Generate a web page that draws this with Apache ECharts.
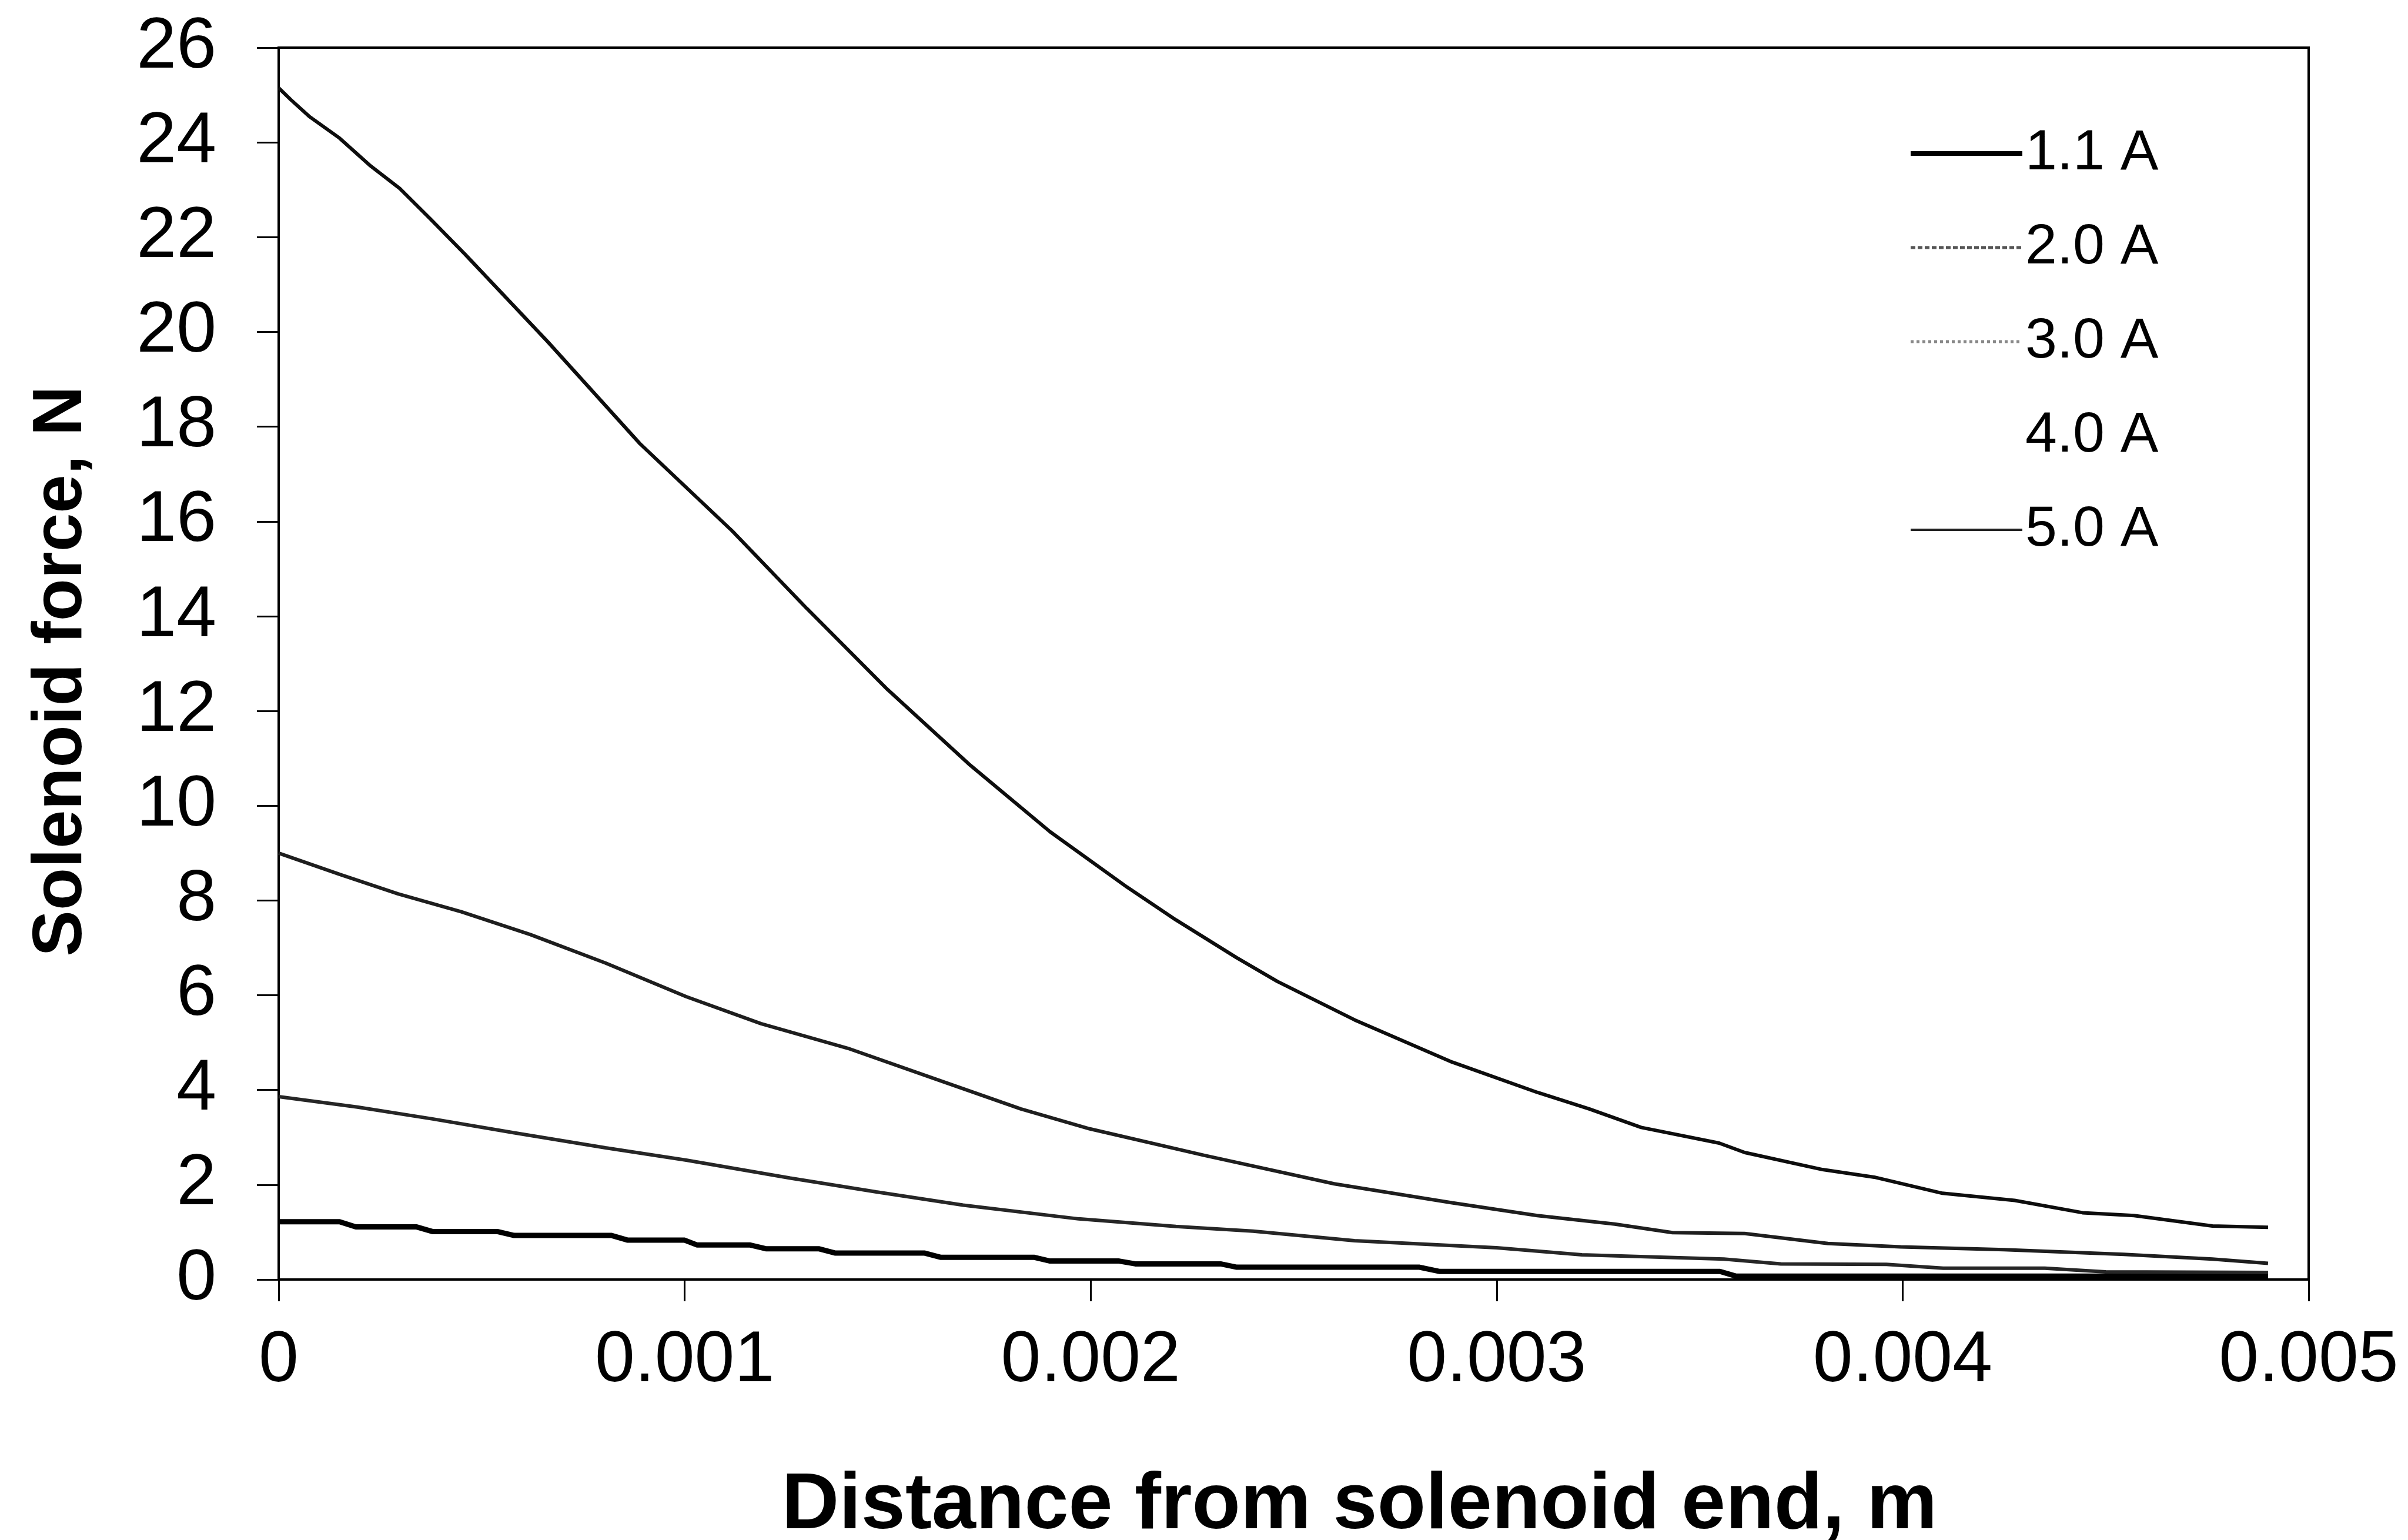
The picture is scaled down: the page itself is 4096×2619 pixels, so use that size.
<!DOCTYPE html>
<html>
<head>
<meta charset="utf-8">
<script src="https://cdn.jsdelivr.net/npm/echarts@6/dist/echarts.min.js"></script>
<style>
html,body{margin:0;padding:0;background:#fff;}
#chart{width:4096px;height:2619px;}
</style>
</head>
<body>
<div id="chart"></div>
<script>
// ---- data (x in m, force in N) ----
const seriesNames = ['1.1 A', '2.0 A', '3.0 A', '4.0 A', '5.0 A'];

const x11 = [0, 0.00015, 0.00019, 0.00034, 0.00038, 0.00054, 0.00058, 0.00082, 0.00086, 0.00100, 0.00103, 0.00116, 0.00120, 0.00133, 0.00137, 0.00159, 0.00163, 0.00186, 0.00190, 0.00207, 0.00211, 0.00232, 0.00236, 0.00281, 0.00286, 0.00355, 0.00359, 0.0049];
const y11 = [1.22, 1.22, 1.11, 1.11, 1.01, 1.01, 0.93, 0.93, 0.83, 0.83, 0.73, 0.73, 0.65, 0.65, 0.56, 0.56, 0.47, 0.47, 0.39, 0.39, 0.33, 0.33, 0.26, 0.26, 0.17, 0.17, 0.07, 0.07];

const x20 = [0, 0.000194, 0.000379, 0.000578, 0.000805, 0.001004, 0.00126, 0.001472, 0.001686, 0.00197, 0.00221, 0.0024, 0.00265, 0.003, 0.00321, 0.00356, 0.0037, 0.00396, 0.0041, 0.00435, 0.0045, 0.0049];
const y20 = [3.86, 3.64, 3.39, 3.10, 2.78, 2.52, 2.14, 1.85, 1.57, 1.28, 1.12, 1.02, 0.82, 0.67, 0.52, 0.43, 0.33, 0.32, 0.24, 0.24, 0.16, 0.15];

const x30 = [0, 0.000151, 0.000294, 0.00045, 0.00062, 0.000805, 0.001004, 0.001188, 0.001402, 0.001615, 0.001828, 0.001998, 0.00228, 0.0026, 0.00289, 0.0031, 0.003291, 0.003433, 0.003611, 0.003816, 0.003995, 0.00425, 0.004545, 0.004763, 0.0049];
const y30 = [9.0, 8.55, 8.14, 7.76, 7.28, 6.68, 5.97, 5.40, 4.88, 4.24, 3.60, 3.18, 2.62, 2.02, 1.62, 1.35, 1.17, 0.99, 0.97, 0.76, 0.69, 0.63, 0.53, 0.43, 0.34];

const x40 = [];
const y40 = [];

const x50 = [0, 0.00003, 0.000075, 0.00015, 0.000224, 0.000298, 0.000373, 0.000459, 0.000663, 0.00089, 0.001117, 0.0013, 0.0015, 0.0017, 0.0019, 0.00209, 0.00221, 0.00236, 0.00246, 0.00265, 0.00289, 0.0031, 0.003228, 0.003356, 0.003548, 0.003611, 0.003803, 0.00393, 0.004098, 0.004276, 0.004443, 0.00457, 0.004763, 0.0049];
const y50 = [25.15, 24.9, 24.55, 24.09, 23.52, 23.03, 22.39, 21.64, 19.79, 17.64, 15.80, 14.17, 12.45, 10.88, 9.45, 8.28, 7.59, 6.79, 6.29, 5.48, 4.59, 3.95, 3.60, 3.21, 2.88, 2.68, 2.32, 2.16, 1.82, 1.67, 1.41, 1.35, 1.13, 1.10];

const xTicks = [0, 0.001, 0.002, 0.003, 0.004, 0.005];
const yTicks = [0, 2, 4, 6, 8, 10, 12, 14, 16, 18, 20, 22, 24, 26];

function pairs(xs, ys) { return xs.map((x, i) => [x, ys[i]]); }

const FONT = "'Liberation Sans', Arial, Helvetica, sans-serif";

const chart = echarts.init(document.getElementById('chart'), null, {renderer: 'canvas'});

const seriesStyle = [
  {color: '#000000', width: 9},
  {color: '#262626', width: 6},
  {color: '#1e1e1e', width: 6},
  {color: '#ffffff', width: 0},
  {color: '#0d0d0d', width: 6}
];
const seriesData = [pairs(x11, y11), pairs(x20, y20), pairs(x30, y30), pairs(x40, y40), pairs(x50, y50)];

try {
chart.setOption({
  animation: false,
  backgroundColor: '#ffffff',
  grid: {left: 474, right: 169, top: 81, bottom: 443, containLabel: false, outerBoundsMode: 'none',
    show: true, borderColor: '#000', borderWidth: 4, backgroundColor: 'transparent'},
  legend: {
    show: true,
    orient: 'vertical',
    left: 3241,
    top: 206,
    itemWidth: 190,
    itemHeight: 20,
    itemGap: 60,
    itemStyle: {opacity: 0},
    textStyle: {fontFamily: FONT, fontSize: 97, color: '#000', lineHeight: 100},
    data: [
      {name: '1.1 A', lineStyle: {color: '#000', width: 8}},
      {name: '2.0 A', lineStyle: {color: '#555', width: 5, type: [8, 4]}},
      {name: '3.0 A', lineStyle: {color: '#888', width: 5, type: [5, 5]}},
      {name: '4.0 A', lineStyle: {color: '#fff', width: 0, opacity: 0}},
      {name: '5.0 A', lineStyle: {color: '#222', width: 4}}
    ]
  },
  xAxis: {
    type: 'value', min: 0, max: 0.005, interval: 0.001,
    axisLine: {show: true, lineStyle: {color: '#000', width: 4}},
    axisTick: {show: true, inside: false, length: 37, lineStyle: {color: '#000', width: 3}},
    splitLine: {show: false},
    axisLabel: {fontFamily: FONT, fontSize: 122, color: '#000', margin: 78,
      formatter: v => { const t = xTicks.find(k => Math.abs(k - v) < 1e-9); return t === 0 ? '0' : t.toFixed(3); }},
    name: 'Distance from solenoid end, m',
    nameLocation: 'middle', nameGap: 318,
    nameTextStyle: {fontFamily: FONT, fontWeight: 'bold', fontSize: 135, color: '#000', padding: [0, 0, 0, 224]}
  },
  yAxis: {
    type: 'value', min: 0, max: 26, interval: 2,
    axisLine: {show: true, lineStyle: {color: '#000', width: 4}},
    axisTick: {show: true, inside: false, length: 37, lineStyle: {color: '#000', width: 3}},
    splitLine: {show: false},
    axisLabel: {fontFamily: FONT, fontSize: 122, color: '#000', margin: 106,
      formatter: v => String(yTicks.find(k => Math.abs(k - v) < 1e-9))},
    name: 'Solenoid force, N',
    nameLocation: 'middle', nameGap: 310,
    nameTextStyle: {fontFamily: FONT, fontWeight: 'bold', fontSize: 118, color: '#000', padding: [0, 26, 0, 0]}
  },
  series: seriesNames.map((n, i) => ({
    name: n, type: 'line', symbol: 'none', showSymbol: false,
    data: seriesData[i],
    color: seriesStyle[i].color,
    lineStyle: {color: seriesStyle[i].color, width: seriesStyle[i].width},
    z: 3 + i
  }))
});
} catch (e) {
  document.body.insertAdjacentHTML('beforeend', '<pre style="font-size:60px;position:absolute;top:0;left:0">' + e + '</pre>');
}
</script>
</body>
</html>
